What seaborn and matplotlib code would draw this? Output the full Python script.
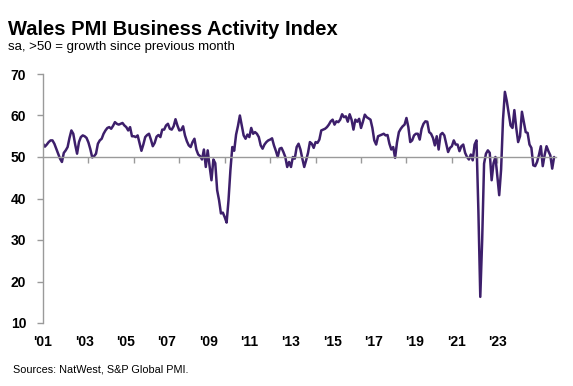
import numpy as np
import pandas as pd
import matplotlib
matplotlib.use("Agg")
import matplotlib.pyplot as plt
import matplotlib.transforms as mtransforms
import seaborn as sns

# Monthly Wales PMI Business Activity Index, Jan 2001 - Jul 2023
y2001 = [53.2, 52.5, 53.0, 53.6, 54.0, 54.0, 53.2, 52.0, 50.8, 49.6, 48.8, 51.0]
y2002 = [51.6, 52.4, 54.6, 56.4, 55.6, 53.0, 50.8, 53.6, 54.8, 55.2, 55.0, 54.6]
y2003 = [53.5, 51.9, 49.9, 50.2, 50.8, 53.2, 54.0, 54.4, 55.6, 56.4, 57.0, 57.2]
y2004 = [56.8, 57.5, 58.4, 58.0, 57.8, 58.0, 58.2, 57.6, 57.2, 56.4, 57.2, 55.0]
y2005 = [55.0, 54.8, 55.2, 53.4, 51.5, 53.0, 54.8, 55.3, 55.6, 54.2, 52.6, 53.4]
y2006 = [54.9, 55.3, 54.8, 56.6, 56.6, 57.6, 58.0, 56.8, 56.6, 57.4, 59.1, 57.6]
y2007 = [56.4, 56.5, 57.4, 55.2, 53.8, 52.8, 52.4, 53.6, 54.4, 51.8, 50.6, 50.2]
y2008 = [49.4, 51.8, 47.6, 51.6, 47.8, 44.4, 49.4, 48.5, 42.0, 39.6, 36.4, 36.6]
y2009 = [35.5, 34.2, 39.6, 46.8, 52.4, 51.5, 55.4, 57.5, 60.0, 57.6, 55.2, 54.4]
y2010 = [55.4, 54.8, 57.0, 55.6, 56.0, 55.6, 54.8, 52.8, 52.0, 53.0, 53.6, 54.0]
y2011 = [54.2, 54.5, 52.8, 51.5, 50.0, 52.0, 52.2, 51.2, 50.0, 47.6, 48.8, 47.6]
y2012 = [50.0, 49.6, 52.4, 53.2, 51.8, 49.6, 47.6, 49.2, 51.0, 53.6, 53.2, 52.2]
y2013 = [53.6, 53.4, 54.2, 56.4, 56.6, 56.8, 57.2, 57.8, 58.6, 59.0, 57.8, 58.6]
y2014 = [58.4, 59.0, 60.3, 59.6, 59.8, 58.5, 60.3, 59.0, 56.6, 59.0, 58.5, 59.2]
y2015 = [57.0, 58.5, 60.2, 59.6, 59.3, 59.0, 57.0, 54.0, 53.0, 55.0, 55.2, 55.4]
y2016 = [55.6, 55.2, 55.3, 53.2, 51.8, 52.4, 49.8, 53.5, 56.0, 56.8, 57.4, 57.8]
y2017 = [59.4, 57.2, 53.6, 54.0, 55.2, 55.6, 55.6, 54.2, 56.8, 58.0, 58.6, 58.5]
y2018 = [56.0, 55.6, 54.6, 52.8, 55.0, 51.8, 55.4, 55.8, 55.2, 53.2, 51.2, 52.2]
y2019 = [52.6, 54.0, 53.0, 53.0, 51.4, 52.6, 53.0, 51.0, 50.0, 49.4, 50.6, 49.2]
y2020 = [53.0, 54.0, 37.0, 16.3, 30.0, 48.4, 50.8, 51.6, 51.0, 44.4, 48.5, 50.0]
y2021 = [45.5, 40.8, 47.0, 59.0, 65.7, 63.5, 60.5, 57.6, 57.0, 61.3, 57.0, 53.6]
y2022 = [55.0, 60.9, 58.5, 56.0, 55.8, 53.0, 52.2, 48.0, 47.8, 48.8, 50.5, 52.6]
y2023 = [47.8, 50.5, 52.6, 51.4, 50.4, 47.2, 50.0]

x_labels = ["'01", "'03", "'05", "'07", "'09", "'11", "'13", "'15", "'17", "'19", "'21", "'23"]
y_ticks = [10, 20, 30, 40, 50, 60, 70]

title = "Wales PMI Business Activity Index"
subtitle = "sa, >50 = growth since previous month"
source = "Sources: NatWest, S&P Global PMI."

values = (y2001 + y2002 + y2003 + y2004 + y2005 + y2006 + y2007 + y2008 + y2009 +
          y2010 + y2011 + y2012 + y2013 + y2014 + y2015 + y2016 + y2017 + y2018 +
          y2019 + y2020 + y2021 + y2022 + y2023)
df = pd.DataFrame({"month": np.arange(len(values)), "pmi": values})

sns.set_style("white")
plt.rcParams["font.family"] = ["Liberation Sans", "DejaVu Sans"]

W, H = 573, 386
fig = plt.figure(figsize=(W / 100, H / 100), dpi=100)
left, right, top, bottom = 43, 556, 74, 323
ax = fig.add_axes([left / W, 1 - bottom / H, (right - left) / W, (bottom - top) / H])

line_color = "#3d1f6b"
axis_gray = "#9a9a9a"

sns.lineplot(data=df, x="month", y="pmi", color=line_color, linewidth=1.8, ax=ax)

ax.set_xlim(0, 271)
ax.set_ylim(10, 70)
ax.set_xlabel("")
ax.set_ylabel("")

for s in ["top", "right"]:
    ax.spines[s].set_visible(False)
ax.spines["left"].set_color(axis_gray)
ax.spines["left"].set_linewidth(1.0)
ax.spines["bottom"].set_position(("data", 50))
ax.spines["bottom"].set_color(axis_gray)
ax.spines["bottom"].set_linewidth(1.0)

ax.set_xticks(np.arange(24, len(values), 24))
ax.tick_params(axis="x", direction="out", length=4, width=1, color=axis_gray,
               labelbottom=False, bottom=True)
ax.set_yticks(y_ticks)
ax.set_yticklabels([str(t) for t in y_ticks], fontsize=10, fontweight="bold", color="black")
ax.tick_params(axis="y", direction="out", length=4, width=1, color=axis_gray, pad=8, left=True)

label_pos = np.linspace(0, 240, len(x_labels))
trans = mtransforms.blended_transform_factory(ax.transData, ax.transAxes)
for p, lab in zip(label_pos, x_labels):
    ax.text(p, -0.05, lab, transform=trans, ha="center", va="top",
            fontsize=10, fontweight="bold", color="black")

fig.text(8 / W, 1 - 35 / H, title, fontsize=14.5, fontweight="bold", color="black",
         ha="left", va="baseline")
fig.text(8 / W, 1 - 50 / H, subtitle, fontsize=9.5, color="black", ha="left", va="baseline")
fig.text(13 / W, 1 - 373 / H, source, fontsize=7.8, color="black", ha="left", va="baseline")

fig.savefig("out.png", dpi=100)
